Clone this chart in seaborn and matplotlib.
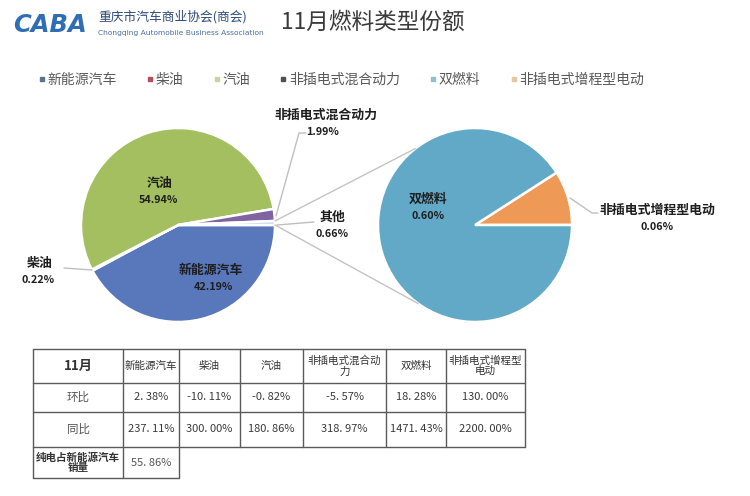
import numpy as np
import pandas as pd
import matplotlib
matplotlib.use("Agg")
import matplotlib.pyplot as plt
from matplotlib.patches import ConnectionPatch
from matplotlib.lines import Line2D
import seaborn as sns

sns.set_theme(style="white")
plt.rcParams['font.family'] = ['Noto Sans CJK SC', 'DejaVu Sans']
plt.rcParams['axes.unicode_minus'] = False

# ---------------- data ----------------
title = "11月燃料类型份额"
org_cn = "重庆市汽车商业协会(商会)"
org_en = "Chongqing Automobile Business Association"
legend_labels = ["新能源汽车", "柴油", "汽油", "非插电式混合动力", "双燃料", "非插电式增程型电动"]
main_labels = ["新能源汽车", "柴油", "汽油", "非插电式混合动力", "其他"]
main_shares = [42.19, 0.22, 54.94, 1.99, 0.66]
sub_labels = ["非插电式增程型电动", "双燃料"]
sub_shares = [0.06, 0.60]

table_header = ["11月", "新能源汽车", "柴油", "汽油", "非插电式混合动\n力", "双燃料", "非插电式增程型\n电动"]
mom_label = "环比"
mom_values = [2.38, -10.11, -0.82, -5.57, 18.28, 130.00]
yoy_label = "同比"
yoy_values = [237.11, 300.00, 180.86, 318.97, 1471.43, 2200.00]
bev_label = "纯电占新能源汽车\n销量"
bev_value = 55.86

# ---------------- style ----------------
main_colors = sns.color_palette(["#5878BB", "#C0504D", "#A3BF60", "#8064A2", "#C9D5EA"])
sub_colors = sns.color_palette(["#EE9A56", "#62A9C8"])
legend_colors = ["#5B7390", "#B5505A", "#C5D79E", "#4F4F4F", "#8EC2C6", "#E6C6A0"]

W, H = 750, 496
fig = plt.figure(figsize=(W / 100, H / 100), dpi=100)
fig.patch.set_facecolor("white")

def pie_axes(cx, cy, r, pad=1.04):
    rr = r * pad
    ax = fig.add_axes([(cx - rr) / W, 1 - (cy + rr) / H, 2 * rr / W, 2 * rr / H])
    return ax

ax1 = pie_axes(178, 225, 97)
w1, _ = ax1.pie(main_shares, colors=main_colors, startangle=0, counterclock=False,
                wedgeprops=dict(edgecolor="white", linewidth=1.8))
ax1.set_xlim(-1.04, 1.04); ax1.set_ylim(-1.04, 1.04)

ax2 = pie_axes(475, 225, 97)
w2, _ = ax2.pie(sub_shares, colors=sub_colors, startangle=0, counterclock=True,
                wedgeprops=dict(edgecolor="white", linewidth=1.8))
ax2.set_xlim(-1.04, 1.04); ax2.set_ylim(-1.04, 1.04)

# pie-of-pie connectors
other = w1[main_labels.index("其他")]
t_hi, t_lo = np.deg2rad(max(other.theta1, other.theta2)), np.deg2rad(min(other.theta1, other.theta2))
for ta, tb in [(t_hi, np.deg2rad(128)), (t_lo, np.deg2rad(-126))]:
    con = ConnectionPatch(xyA=(np.cos(ta), np.sin(ta)), coordsA=ax1.transData,
                          xyB=(np.cos(tb), np.sin(tb)), coordsB=ax2.transData,
                          color="#C3C3C3", lw=1.0)
    fig.add_artist(con)

# overlay in pixel coordinates
ov = fig.add_axes([0, 0, 1, 1])
ov.set_xlim(0, W); ov.set_ylim(H, 0)
ov.axis("off")
ov.patch.set_visible(False)

# logo + header
ov.text(13, 25, "CABA", fontsize=17.5, fontweight="heavy", fontstyle="italic",
        color="#2F6DB5", va="center", ha="left", family="DejaVu Sans")
ov.text(98, 17, org_cn, fontsize=9.2, color="#2C4A78", va="center", ha="left")
ov.text(98, 33, org_en, fontsize=5.4, color="#4A6FA5", va="center", ha="left", family="DejaVu Sans")
ov.text(281, 22, title, fontsize=16.3, fontweight="medium", color="#3A3A3A", va="center", ha="left")

# legend
handles = [Line2D([], [], ls="none", marker="s", ms=2.4, mfc=c, mec=c) for c in legend_colors]
fig.legend(handles, legend_labels, loc="center left", bbox_to_anchor=(39 / W, 1 - 80 / H),
           ncol=6, frameon=False, fontsize=10, labelcolor="#595959",
           handlelength=0.4, handletextpad=0.2, columnspacing=2.2, borderpad=0, borderaxespad=0)

# pie labels
lab_kw = dict(fontsize=9.3, fontweight="bold", color="#1E1E1E", ha="center", va="center")
pct_kw = dict(fontsize=7.8, fontweight="bold", color="#1E1E1E", ha="center", va="center")
def pct(v):
    return f"{v:.2f}%"

label_pos = {
    "汽油": ((160, 183), (158, 200)),
    "新能源汽车": ((211, 270), (213, 287)),
    "柴油": ((40, 263), (38, 280)),
    "非插电式混合动力": ((326, 115), (323, 132)),
    "其他": ((332, 217), (332, 234)),
}
for name, share in zip(main_labels, main_shares):
    (lx, ly), (px, py) = label_pos[name]
    ov.text(lx, ly, name, **lab_kw)
    ov.text(px, py, pct(share), **pct_kw)

sub_pos = {
    "双燃料": ((428, 199), (428, 216)),
    "非插电式增程型电动": ((657, 210), (657, 227)),
}
for name, share in zip(sub_labels, sub_shares):
    (lx, ly), (px, py) = sub_pos[name]
    ov.text(lx, ly, name, **lab_kw)
    ov.text(px, py, pct(share), **pct_kw)

# leader lines
lc = dict(color="#BFBFBF", lw=1.0)
ov.plot([276, 299, 306], [216, 133, 133], **lc)
ov.plot([277, 314], [225, 222], **lc)
ov.plot([92, 64], [270, 268], **lc)
ov.plot([570, 592, 598], [198, 213, 213], **lc)

# table
col_x = [33, 123, 179, 240, 303, 386, 446, 525]
row_y = [349, 383, 412, 447, 478]
tc = dict(color="#5A5A5A", lw=1.0)
for y in row_y[:4]:
    ov.plot([col_x[0], col_x[-1]], [y, y], **tc)
ov.plot([col_x[0], col_x[2]], [row_y[4], row_y[4]], **tc)
for i, x in enumerate(col_x):
    y_end = row_y[4] if i <= 2 else row_y[3]
    ov.plot([x, x], [row_y[0], y_end], **tc)

def cx(i):
    return (col_x[i] + col_x[i + 1]) / 2
def cy(j):
    return (row_y[j] + row_y[j + 1]) / 2

def fmt(v):
    return f"{v:.2f}%".replace(".", ". ")

for i, h in enumerate(table_header):
    if i == 0:
        ov.text(cx(i), cy(0), h, fontsize=9.5, fontweight="bold", color="#333333",
                ha="center", va="center")
    else:
        ov.text(cx(i), cy(0), h, fontsize=7.6, color="#333333", ha="center", va="center",
                linespacing=1.05)

ov.text(cx(0), cy(1), mom_label, fontsize=8.3, color="#555555", ha="center", va="center")
ov.text(cx(0), cy(2), yoy_label, fontsize=8.3, color="#555555", ha="center", va="center")
for i, v in enumerate(mom_values):
    ov.text(cx(i + 1), cy(1), fmt(v), fontsize=8, color="#3A3A3A", ha="center", va="center")
for i, v in enumerate(yoy_values):
    ov.text(cx(i + 1), cy(2), fmt(v), fontsize=8, color="#3A3A3A", ha="center", va="center")
ov.text(cx(0), cy(3), bev_label, fontsize=7.6, fontweight="bold", color="#333333",
        ha="center", va="center", linespacing=1.05)
ov.text(cx(1), cy(3), fmt(bev_value), fontsize=8, color="#555555", ha="center", va="center")

fig.savefig("out.png", dpi=100, facecolor="white")
